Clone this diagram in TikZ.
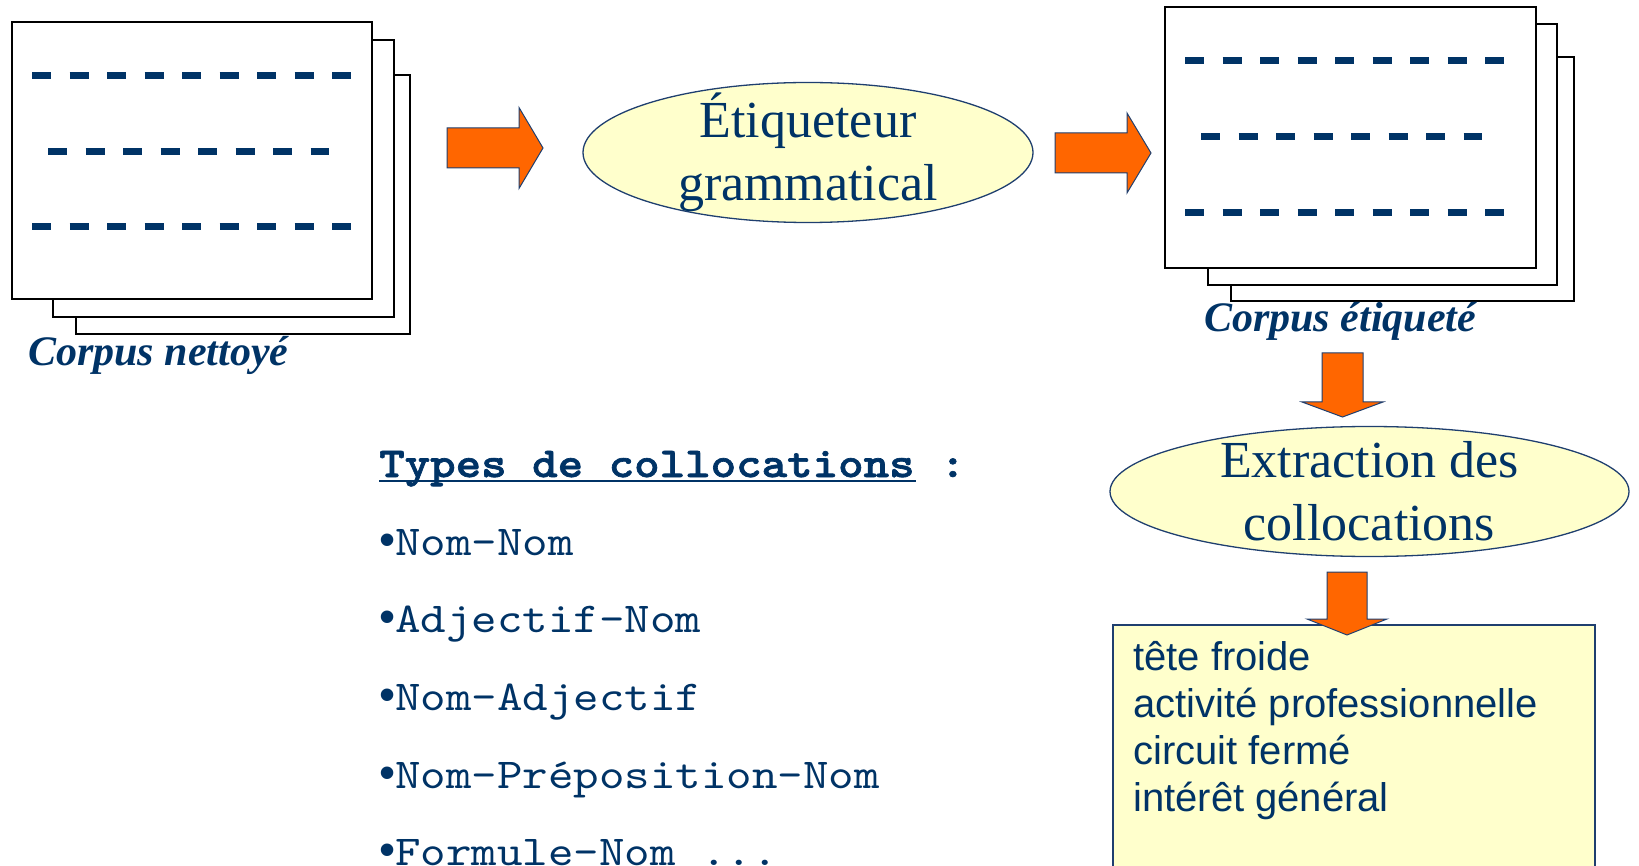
\documentclass[tikz,border=0pt]{standalone}
\usepackage{fontspec}
\setmainfont{Liberation Serif}
\newfontfamily\arialf{Liberation Sans}
\newfontfamily\courf{lmmono10-regular}[Extension=.otf, BoldFont=lmmonolt10-bold, BoldFeatures={FakeBold=1.6}, FakeStretch=1.14]
\usetikzlibrary{shapes.geometric}
\definecolor{navy}{HTML}{003366}
\definecolor{orng}{HTML}{FF6600}
\definecolor{paleyel}{HTML}{FFFFCC}
\definecolor{edgeblue}{HTML}{1F3F6F}
\begin{document}
\begin{tikzpicture}[x=1pt,y=-1pt,
 sheet/.style={draw=black, line width=1.5pt, fill=white, rectangle, anchor=north west, inner sep=0pt, outer sep=0pt},
 dashrow/.style={draw=navy, line width=7pt, dash pattern=on 19pt off 18.5pt},
 blockarrow/.style={fill=orng, draw=edgeblue, line width=1pt, line join=miter},
 oval/.style={ellipse, draw=edgeblue, line width=1.3pt, fill=paleyel, inner sep=0pt},
 ovaltext/.style={font=\fontsize{52}{63}\selectfont, text=navy, align=center, inner sep=0pt},
 caption/.style={font=\fontsize{42}{50}\selectfont\bfseries\itshape, text=navy, anchor=base west, inner sep=0pt},
 typeline/.style={font=\courf\fontsize{42.6}{50}\selectfont, text=navy, anchor=base west, inner sep=0pt},
 resline/.style={font=\arialf\fontsize{40}{47}\selectfont, text=navy, anchor=base west, inner sep=0pt},
 resbox/.style={draw=edgeblue, line width=1.2pt, fill=paleyel, rectangle, anchor=north west, inner sep=0pt, outer sep=0pt},
]
\useasboundingbox (0,0) rectangle (1639,866);

% left stack
\node[sheet, minimum width=334, minimum height=259] (L3) at (76,75) {};
\node[sheet, minimum width=341, minimum height=277] (L2) at (53,40) {};
\node[sheet, minimum width=360, minimum height=277] (L1) at (12,22) {};
\draw[dashrow] (32,76) -- (351,76);
\draw[dashrow] (48,152) -- (329,152);
\draw[dashrow] (32,227) -- (351,227);
\node[caption] (capL) at (28,366) {Corpus nettoyé};

% right stack
\node[sheet, minimum width=343, minimum height=244] (R3) at (1231,57) {};
\node[sheet, minimum width=349, minimum height=261] (R2) at (1208,24) {};
\node[sheet, minimum width=371, minimum height=261] (R1) at (1165,7) {};
\draw[dashrow] (1185,61) -- (1504,61);
\draw[dashrow] (1201,137) -- (1482,137);
\draw[dashrow] (1185,213) -- (1504,213);
\node[caption] (capR) at (1204,332) {Corpus étiqueté};

% ellipses
\node[oval, minimum width=450, minimum height=140] (tagger) at (808,152.5) {};
\node[ovaltext] (taggertext) at (tagger.center) {Étiqueteur\\grammatical};
\node[oval, minimum width=519, minimum height=130] (extract) at (1369.5,491.5) {};
\node[ovaltext] (extracttext) at (extract.center) {Extraction des\\collocations};

% result box
\node[resbox, minimum width=482, minimum height=280] (res) at (1113,625) {};
\node[resline] (r1) at (1133,670) {tête froide};
\node[resline] (r2) at (1133,717) {activité professionnelle};
\node[resline] (r3) at (1133,764) {circuit fermé};
\node[resline] (r4) at (1133,811) {intérêt général};

% block arrows
\coordinate (a1) at (447,148);
\coordinate (a2) at (1055,153);
\coordinate (a3) at (1342.5,353);
\coordinate (a4) at (1347,572);
\draw[blockarrow, shift={(a1)}] (0,-20) -- (72,-20) -- (72,-40.5) -- (96,0) -- (72,40.5) -- (72,20) -- (0,20) -- cycle;
\draw[blockarrow, shift={(a2)}] (0,-20) -- (72,-20) -- (72,-40) -- (96,0) -- (72,40) -- (72,20) -- (0,20) -- cycle;
\draw[blockarrow, shift={(a3)}] (-20.5,0) -- (20.5,0) -- (20.5,49) -- (40.5,49) -- (0,64) -- (-40.5,49) -- (-20.5,49) -- cycle;
\draw[blockarrow, shift={(a4)}] (-20,0) -- (20,0) -- (20,47) -- (40,47) -- (0,63) -- (-40,47) -- (-20,47) -- cycle;

% types list
\node[typeline, font=\courf\bfseries\fontsize{42.6}{50}\selectfont] (hdr) at (379,477) {Types de collocations :};
\draw[navy, line width=2pt] (379,481) -- (916,481);
\node[typeline] (t1) at (379,555) {{\arialf\fontsize{46}{50}\selectfont •}Nom-Nom};
\node[typeline] (t2) at (379,632) {{\arialf\fontsize{46}{50}\selectfont •}Adjectif-Nom};
\node[typeline] (t3) at (379,710) {{\arialf\fontsize{46}{50}\selectfont •}Nom-Adjectif};
\node[typeline] (t4) at (379,788) {{\arialf\fontsize{46}{50}\selectfont •}Nom-Préposition-Nom};
\node[typeline] (t5) at (379,865) {{\arialf\fontsize{46}{50}\selectfont •}Formule-Nom ...};
\end{tikzpicture}
\end{document}
